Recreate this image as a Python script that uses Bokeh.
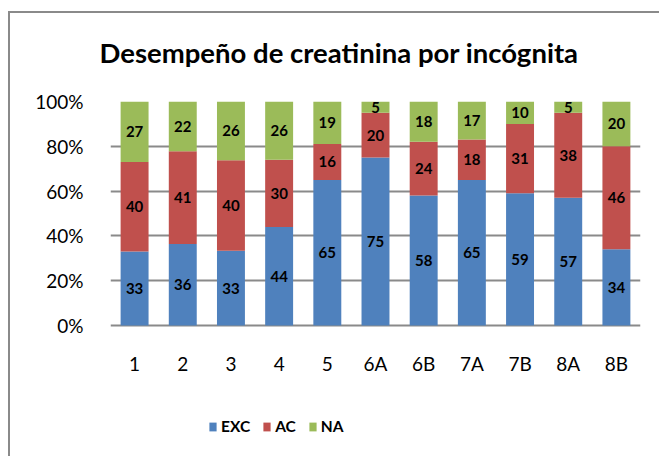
from bokeh.plotting import figure
from bokeh.models import ColumnDataSource, NumeralTickFormatter, Legend, LegendItem, FixedTicker, Title, Range1d
from bokeh.core.properties import value
from bokeh.embed import file_html
from bokeh.resources import INLINE

categories = ["1", "2", "3", "4", "5", "6A", "6B", "7A", "7B", "8A", "8B"]
exc = [33, 36, 33, 44, 65, 75, 58, 65, 59, 57, 34]
ac = [40, 41, 40, 30, 16, 20, 24, 18, 31, 38, 46]
na = [27, 22, 26, 26, 19, 5, 18, 17, 10, 5, 20]
series = ["EXC", "AC", "NA"]
colors = ["#4F81BD", "#C0504D", "#9BBB59"]
y_ticks = [0, 0.2, 0.4, 0.6, 0.8, 1.0]

tot = [a + b + c for a, b, c in zip(exc, ac, na)]
f_exc = [a / t for a, t in zip(exc, tot)]
f_ac = [a / t for a, t in zip(ac, tot)]
f_na = [a / t for a, t in zip(na, tot)]

src = ColumnDataSource(dict(cat=categories, EXC=f_exc, AC=f_ac, NA=f_na))

FONT = "Lato"

# plot area extends below 0% so the category labels and legend sit inside it
PLOT_H = 224.0          # pixels for 0..100%
BELOW = 121.0           # pixels below the 0% line
Y0 = -BELOW / PLOT_H

p = figure(x_range=categories, y_range=Range1d(Y0, 1), width=659, height=456,
           output_backend="svg", toolbar_location=None,
           min_border_left=110, min_border_right=19, min_border_top=101, min_border_bottom=10)
# chart-area frame: left and top edges drawn as a CSS background behind a transparent border area
p.styles = {"background": ("linear-gradient(#8a8a8a,#8a8a8a) 8px 11px / 2px 445px no-repeat, "
                           "linear-gradient(#8a8a8a,#8a8a8a) 8px 11px / 651px 2px no-repeat, white")}
p.border_fill_color = None
p.background_fill_color = None
p.outline_line_color = None
p.x_range.range_padding = 0

t = Title(text="Desempeño de creatinina por incógnita", align="left",
          text_font=FONT, text_font_size="27.5px", text_font_style="bold",
          text_color="black", offset=-11, standoff=66)
p.add_layout(t, "above")

r = p.vbar_stack(series, x="cat", width=0.58, source=src, color=colors, line_color=None)

# segment value labels
lab_x, lab_y, lab_t = [], [], []
for i, c in enumerate(categories):
    b0 = 0.0
    for fr, raw in ((f_exc[i], exc[i]), (f_ac[i], ac[i]), (f_na[i], na[i])):
        lab_x.append(c)
        lab_y.append(b0 + fr / 2)
        lab_t.append(str(raw))
        b0 += fr
lsrc = ColumnDataSource(dict(x=lab_x, y=lab_y, t=lab_t))
p.text(x="x", y="y", text="t", source=lsrc, text_align="center", text_baseline="middle",
       text_font=value(FONT), text_font_size="15px", text_font_style="bold", text_color="black")

# category labels
csrc = ColumnDataSource(dict(x=categories, y=[-38.0 / PLOT_H] * len(categories)))
p.text(x="x", y="y", text="x", source=csrc, text_align="center", text_baseline="middle",
       text_font=value(FONT), text_font_size="19px", text_color="black")

p.xaxis.visible = False
p.yaxis.ticker = FixedTicker(ticks=y_ticks)
p.yaxis.formatter = NumeralTickFormatter(format="0%")
p.yaxis.axis_line_color = None
p.yaxis.major_tick_line_color = None
p.yaxis.minor_tick_line_color = None
p.yaxis.major_label_standoff = 21
p.yaxis.major_label_text_font = FONT
p.yaxis.major_label_text_font_size = "19px"
p.yaxis.major_label_text_color = "black"

p.xgrid.grid_line_color = None
p.ygrid.ticker = FixedTicker(ticks=y_ticks)
p.ygrid.grid_line_color = "#8a8a8a"
p.ygrid.grid_line_width = 1.8
p.ygrid.level = "underlay"

items = [LegendItem(label=s, renderers=[r[i]]) for i, s in enumerate(series)]
leg = Legend(items=items, orientation="horizontal", location=(98, 11),
             label_text_font=FONT, label_text_font_size="15.5px", label_text_font_style="bold",
             label_text_color="black", glyph_width=9, glyph_height=11, label_standoff=4,
             spacing=12, padding=0, margin=0, border_line_color=None, background_fill_alpha=0)
p.add_layout(leg, "center")

open("out.html", "w").write(file_html(p, INLINE))
